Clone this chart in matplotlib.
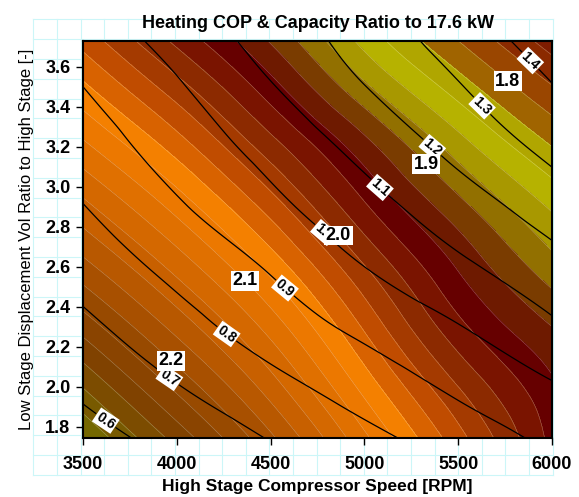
import numpy as np
import matplotlib
matplotlib.use("Agg")
import matplotlib.pyplot as plt
import matplotlib.tri as mtri
from matplotlib.colors import ListedColormap, BoundaryNorm

plt.rcParams["font.family"] = ["Liberation Sans", "DejaVu Sans"]

# ---- data -------------------------------------------------------------
speed_rpm = [3500, 4000, 4500, 5000, 5500, 6000]
vol_ratio = [1.7, 2.0, 2.3, 2.6, 2.9, 3.2, 3.5, 3.8]

# heating COP, one row per vol_ratio, one column per speed_rpm
cop = [
    [2.326, 2.259, 2.190, 2.110, 2.032, 1.955],
    [2.279, 2.215, 2.150, 2.073, 2.000, 1.944],
    [2.232, 2.173, 2.112, 2.037, 1.966, 1.920],
    [2.187, 2.133, 2.073, 2.001, 1.938, 1.888],
    [2.146, 2.093, 2.031, 1.963, 1.907, 1.857],
    [2.105, 2.051, 1.989, 1.928, 1.870, 1.820],
    [2.064, 2.008, 1.948, 1.884, 1.830, 1.781],
    [2.023, 1.965, 1.909, 1.845, 1.791, 1.741],
]

# heating capacity divided by 17.6 kW
capacity_ratio = [
    [0.554, 0.624, 0.694, 0.763, 0.835, 0.911],
    [0.618, 0.696, 0.770, 0.844, 0.918, 0.991],
    [0.679, 0.764, 0.846, 0.923, 0.996, 1.084],
    [0.741, 0.827, 0.909, 1.000, 1.081, 1.165],
    [0.797, 0.889, 0.976, 1.066, 1.154, 1.246],
    [0.852, 0.942, 1.032, 1.129, 1.229, 1.327],
    [0.900, 0.990, 1.094, 1.198, 1.294, 1.396],
    [0.948, 1.049, 1.149, 1.250, 1.356, 1.460],
]

cop_levels = [round(1.70 + 0.02 * i, 2) for i in range(33)]
cop_label_levels = [1.8, 1.9, 2.0, 2.1, 2.2]
cap_levels = [0.6, 0.7, 0.8, 0.9, 1.0, 1.1, 1.2, 1.3, 1.4]

# band colours, lowest COP first
band_colors = [
    "#660800", "#6e1000", "#7e1c00", "#8b2a00", "#9a4600", "#a06400",
    "#b0a600", "#b6b200", "#a89800", "#927000", "#7a3c00", "#6e1a00",
    "#660000", "#7a1400", "#8c2a00", "#a43a00", "#c04c00", "#d86200",
    "#f48000", "#ec7800", "#e07000", "#d46800", "#c86000", "#b85800",
    "#a85000", "#984a00", "#8a4400", "#804200", "#7c4c00", "#785a00",
    "#746800", "#707000",
]

cap_label_pos = [(3617, 1.824), (3953, 2.033), (4262, 2.258), (4598, 2.519),
                 (4774, 2.759), (5072, 2.984), (5360, 3.194), (5627, 3.404),
                 (5883, 3.629)]
cop_label_pos = [(5776, 3.544), (5339, 3.124), (4881, 2.774), (4401, 2.569),
                 (3964, 2.124)]

# ---- figure -----------------------------------------------------------
W, H = 579, 497
fig = plt.figure(figsize=(W / 100, H / 100), dpi=100)

# pale cyan page grid behind everything
bg = fig.add_axes([0, 0, 1, 1], zorder=-5)
bg.set_xlim(0, W)
bg.set_ylim(H, 0)
bg.axis("off")
for k in range(23):
    x = 33.3 + 23.6 * k
    bg.plot([x, x], [19.3, 474.7], color="#ccf6f8", lw=0.8)
for k in range(24):
    y = 19.3 + 19.8 * k
    bg.plot([33.3, 552.5], [y, y], color="#ccf6f8", lw=0.8)

ax = fig.add_axes([83 / W, 1 - 438 / H, (552 - 83) / W, (438 - 41) / H])

S, R = np.meshgrid(speed_rpm, vol_ratio)
tri = mtri.Triangulation(S.ravel() / 1000.0, R.ravel())
refiner = mtri.UniformTriRefiner(tri)
fine_cop_tri, fine_cop = refiner.refine_field(np.asarray(cop).ravel(), subdiv=4)
fine_cap_tri, fine_cap = refiner.refine_field(np.asarray(capacity_ratio).ravel(), subdiv=4)
fine_cop_tri.x = fine_cop_tri.x * 1000.0
fine_cap_tri.x = fine_cap_tri.x * 1000.0

cmap = ListedColormap(band_colors)
norm = BoundaryNorm(cop_levels, cmap.N)
ax.tricontourf(fine_cop_tri, fine_cop, levels=cop_levels, cmap=cmap, norm=norm)
ax.tricontour(fine_cop_tri, fine_cop, levels=cop_levels, colors="white",
              linewidths=0.4, alpha=0.35)

cop_lines = ax.tricontour(fine_cop_tri, fine_cop, levels=cop_label_levels,
                          colors="none", linewidths=0)
cap_lines = ax.tricontour(fine_cap_tri, fine_cap, levels=cap_levels,
                          colors="black", linewidths=0.9)

cap_txt = ax.clabel(cap_lines, fmt="%.1f", manual=cap_label_pos, inline=True,
                    inline_spacing=2, fontsize=10)
for t in cap_txt:
    t.set_fontweight("bold")
    t.set_color("black")
    t.set_bbox(dict(facecolor="white", edgecolor="none", pad=1.0))
    t.set_zorder(6)

cop_txt = ax.clabel(cop_lines, fmt="%.1f", manual=cop_label_pos, inline=False,
                    fontsize=13, colors="black")
for t in cop_txt:
    t.set_rotation(0)
    t.set_fontweight("bold")
    t.set_bbox(dict(facecolor="white", edgecolor="none", pad=1.0))
    t.set_zorder(7)

ax.set_xlim(3500, 6000)
ax.set_ylim(1.7435, 3.7285)
ax.set_xticks([3500, 4000, 4500, 5000, 5500, 6000])
ax.set_yticks([1.8, 2.0, 2.2, 2.4, 2.6, 2.8, 3.0, 3.2, 3.4, 3.6])
ax.set_yticklabels(["1.8", "2.0", "2.2", "2.4", "2.6", "2.8", "3.0", "3.2", "3.4", "3.6"])
ax.tick_params(direction="out", length=5, width=1.0, labelsize=13, pad=4)
ax.tick_params(axis="x", pad=8)
for lab in ax.get_xticklabels() + ax.get_yticklabels():
    lab.set_fontweight("bold")
for sp in ax.spines.values():
    sp.set_linewidth(1.5)

ax.set_title("Heating COP & Capacity Ratio to 17.6 kW", fontsize=13,
             fontweight="bold", pad=9)
ax.set_xlabel("High Stage Compressor Speed [RPM]", fontsize=12.5,
              fontweight="bold", labelpad=4)
ax.set_ylabel("Low Stage Displacement Vol Ratio to High Stage [-]", fontsize=12,
              labelpad=8)

fig.savefig("out.png", dpi=100)
